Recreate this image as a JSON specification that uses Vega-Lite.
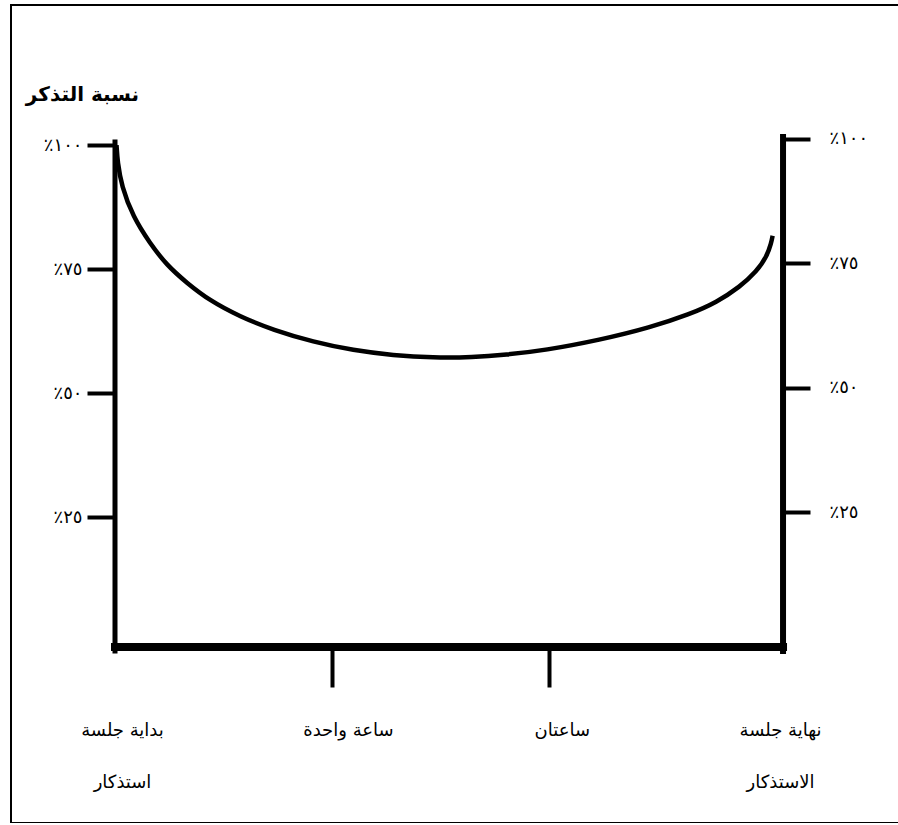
{
  "$schema": "https://vega.github.io/schema/vega-lite/v6.json",
  "width": 900,
  "height": 818,
  "autosize": {"type": "none"},
  "padding": {"left": 11, "top": 5, "right": 0, "bottom": 0},
  "background": "white",
  "config": {
    "view": {"stroke": "black", "strokeWidth": 2},
    "font": "DejaVu Sans",
    "axis": {"grid": false, "domain": false, "labelColor": "black", "tickColor": "black", "labelFont": "DejaVu Sans", "titleFont": "DejaVu Sans", "titleColor": "black"}
  },
  "data": {"values": [{}]},
  "datasets": {
    "curve": [
      {"hours": 0.007, "recall": 100.0},
      {"hours": 0.012, "recall": 96.5},
      {"hours": 0.030, "recall": 91.8},
      {"hours": 0.083, "recall": 85.5},
      {"hours": 0.161, "recall": 80.2},
      {"hours": 0.238, "recall": 75.8},
      {"hours": 0.331, "recall": 72.2},
      {"hours": 0.438, "recall": 68.6},
      {"hours": 0.576, "recall": 65.4},
      {"hours": 0.730, "recall": 62.7},
      {"hours": 0.914, "recall": 60.3},
      {"hours": 1.099, "recall": 58.6},
      {"hours": 1.283, "recall": 57.6},
      {"hours": 1.467, "recall": 57.1},
      {"hours": 1.650, "recall": 57.2},
      {"hours": 1.800, "recall": 57.7},
      {"hours": 1.982, "recall": 58.6},
      {"hours": 2.236, "recall": 60.7},
      {"hours": 2.467, "recall": 63.2},
      {"hours": 2.651, "recall": 65.9},
      {"hours": 2.774, "recall": 68.3},
      {"hours": 2.881, "recall": 71.4},
      {"hours": 2.958, "recall": 74.5},
      {"hours": 3.005, "recall": 77.5},
      {"hours": 3.026, "recall": 80.3},
      {"hours": 3.032, "recall": 81.7}
    ]
  },
  "layer": [
    {
      "layer": [
        {
          "data": {"name": "curve"},
          "mark": {"type": "line", "color": "black", "strokeWidth": 4.5, "interpolate": "basis"},
          "encoding": {
            "x": {
              "field": "hours", "type": "quantitative",
              "scale": {"domain": [-0.4795, 3.670], "nice": false, "zero": false},
              "axis": {
                "orient": "bottom", "offset": -176, "title": null,
                "values": [0, 1, 2, 3.08],
                "labelExpr": "datum.value == 0 ? ['بداية جلسة', 'استذكار'] : datum.value == 1 ? 'ساعة واحدة' : datum.value == 2 ? 'ساعتان' : ['نهاية جلسة', 'الاستذكار']",
                "tickSize": 40, "tickWidth": 4,
                "tickOpacity": {"condition": {"test": "datum.value == 1 || datum.value == 2", "value": 1}, "value": 0},
                "labelPadding": 34, "labelLineHeight": 52, "labelFontSize": 18,
                "labelOffset": {"condition": [{"test": "datum.value == 0", "value": 7}, {"test": "datum.value == 1", "value": 16}, {"test": "datum.value == 2", "value": 13}], "value": -3},
                "labelFlush": false, "labelOverlap": false, "labelBound": false
              }
            },
            "y": {
              "field": "recall", "type": "quantitative",
              "scale": {"domain": [-36.69, 128.23], "nice": false, "zero": false},
              "axis": {
                "orient": "left", "offset": -104,
                "title": "نسبة التذكر", "titleAngle": 0, "titleX": -33, "titleY": 89,
                "titleAlign": "center", "titleBaseline": "middle", "titleFontSize": 20, "titleFontWeight": "bold",
                "values": [25, 50, 75, 100],
                "labelExpr": "datum.value == 100 ? '٪١٠٠' : datum.value == 75 ? '٪٧٥' : datum.value == 50 ? '٪٥٠' : '٪٢٥'",
                "labelFontSize": 18, "tickSize": 28, "tickWidth": 4, "labelPadding": 5
              }
            }
          }
        },
        {
          "mark": {"type": "rule", "color": "black", "strokeWidth": 5, "strokeCap": "square"},
          "encoding": {
            "x": {"datum": 0, "type": "quantitative"},
            "y": {"datum": -2.0, "type": "quantitative"},
            "y2": {"datum": 100.6}
          }
        },
        {
          "mark": {"type": "rule", "color": "black", "strokeWidth": 8, "strokeCap": "square"},
          "encoding": {
            "x": {"datum": 0, "type": "quantitative"},
            "x2": {"datum": 3.08},
            "y": {"datum": -1.2, "type": "quantitative"}
          }
        }
      ]
    },
    {
      "mark": {"type": "rule", "color": "black", "strokeWidth": 6, "strokeCap": "square"},
      "encoding": {
        "x": {"datum": 3.08, "type": "quantitative"},
        "y": {
          "datum": -2.8, "type": "quantitative",
          "scale": {"domain": [-37.35, 126.9], "nice": false, "zero": false},
          "axis": {
            "orient": "right", "offset": -128, "title": null,
            "values": [25, 50, 75, 100],
            "labelExpr": "datum.value == 100 ? '٪١٠٠' : datum.value == 75 ? '٪٧٥' : datum.value == 50 ? '٪٥٠' : '٪٢٥'",
            "labelFontSize": 18, "tickSize": 27, "tickWidth": 4, "labelPadding": 19
          }
        },
        "y2": {"datum": 100.4}
      }
    }
  ],
  "resolve": {"scale": {"y": "independent"}}
}
